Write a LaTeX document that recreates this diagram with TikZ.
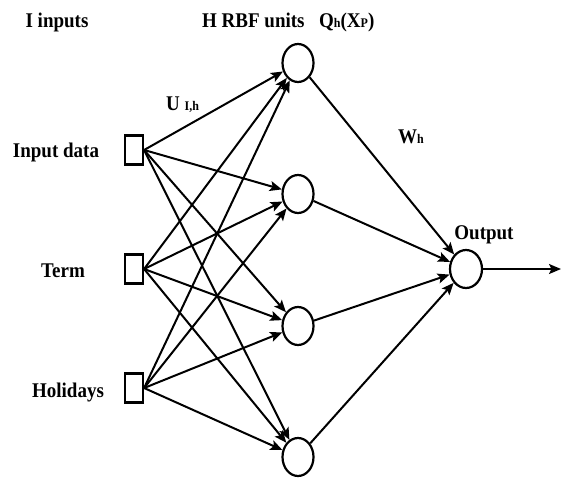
\documentclass[tikz,border=0pt]{standalone}
\usepackage{fontspec}
\setmainfont{Liberation Serif}
\usetikzlibrary{arrows.meta,shapes.geometric}
\newcommand{\tall}[1]{\scalebox{1}[1.1]{#1}}
\begin{document}
\begin{tikzpicture}[x=1pt,y=-1pt,
  lbl/.style={font=\fontsize{19}{19}\selectfont\bfseries, inner sep=0pt},
  inbox/.style={draw, line width=2.2pt, minimum width=18pt, minimum height=29pt, inner sep=0pt},
  unit/.style={draw, line width=2.2pt, ellipse, minimum width=31pt, minimum height=38pt, inner sep=0pt},
  conn/.style={line width=2pt, -{Stealth[length=12pt,width=10pt,inset=2.5pt]}}
]
\useasboundingbox (0,0) rectangle (562,477);
% input boxes
\node[inbox] (i1) at (134,150) {};
\node[inbox] (i2) at (134,269) {};
\node[inbox] (i3) at (134,388) {};
% hidden units
\node[unit] (h1) at (298,63) {};
\node[unit] (h2) at (298,194) {};
\node[unit] (h3) at (298,326) {};
\node[unit] (h4) at (298,457) {};
% output
\node[unit, minimum width=32pt] (o) at (466,269) {};
\coordinate (oend) at (561,269);
% connections
\foreach \i in {i1,i2,i3}{
  \foreach \h in {h1,h2,h3,h4}{
    \draw[conn] (\i.east) -- (\h);
  }
}
\foreach \h in {h1,h2,h3,h4}{
  \draw[conn] (\h) -- (o);
}
\draw[conn] (o.east) -- (oend);
% labels
\node[lbl, anchor=base] (tI) at (57,27) {\tall{I inputs}};
\node[lbl, anchor=base west] (tH) at (202,27) {\tall{H RBF units}};
\node[lbl, anchor=base west] (tQ) at (319,27) {\tall{Q{\fontsize{12}{12}\selectfont h}(X{\fontsize{12}{12}\selectfont P})}};
\node[lbl, anchor=base west] (tU) at (166,110) {\tall{U {\fontsize{12}{12}\selectfont I,h}}};
\node[lbl, anchor=base west] (tW) at (398,143) {\tall{W{\fontsize{12}{12}\selectfont h}}};
\node[lbl, anchor=base] (t1) at (56,157) {\tall{Input data}};
\node[lbl, anchor=base] (t2) at (63,277) {\tall{Term}};
\node[lbl, anchor=base] (t3) at (68,397) {\tall{Holidays}};
\node[lbl, anchor=base] (t4) at (484,239) {\tall{Output}};
\end{tikzpicture}
\end{document}
